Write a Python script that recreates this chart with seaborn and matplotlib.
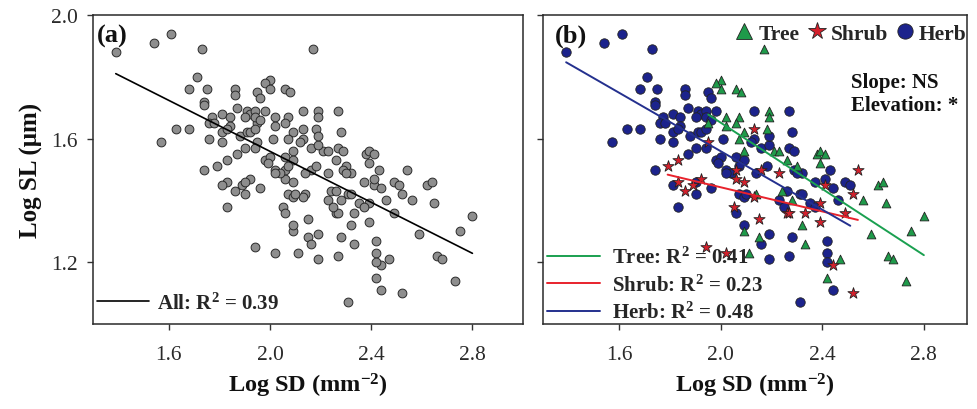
import numpy as np
import pandas as pd
import matplotlib
matplotlib.use("Agg")
import matplotlib.pyplot as plt
import seaborn as sns
from matplotlib.lines import Line2D

# ---------------- data (Log SD, Log SL) ----------------
herb_sd = [1.39, 1.54, 1.61, 1.73, 1.71, 1.68, 1.75, 1.86, 1.86, 1.95,
           1.96, 1.74, 1.74, 1.87, 1.91, 1.92, 1.94, 1.90, 1.94, 1.98,
           1.96, 1.81, 1.84, 1.77, 1.76, 1.78, 1.81, 1.84, 1.83, 1.88,
           1.91, 1.92, 1.94, 1.63, 1.68, 1.76, 1.81, 1.57, 1.87, 1.90,
           1.94, 1.98, 2.00, 1.99, 2.01, 2.06, 2.09, 2.13, 2.13, 2.12,
           2.16, 2.19, 2.27, 2.28, 2.19, 2.27, 2.29, 2.02, 2.07, 2.04,
           2.14, 2.18, 1.74, 1.81, 1.90, 1.90, 1.96, 1.83, 2.02, 2.07,
           2.09, 2.10, 2.06, 2.09, 2.16, 2.29, 2.32, 2.37, 2.41, 2.44,
           2.49, 2.51, 2.46, 2.26, 2.31, 2.32, 2.23, 2.25, 2.35, 2.37,
           2.19, 2.28, 2.19, 2.27, 2.42, 2.42, 2.42, 2.44, 2.31, 2.43,
           2.30]
herb_sl = [1.88, 1.91, 1.94, 1.89, 1.80, 1.76, 1.76, 1.76, 1.74, 1.75,
           1.73, 1.72, 1.71, 1.70, 1.69, 1.68, 1.69, 1.67, 1.67, 1.69,
           1.66, 1.68, 1.67, 1.67, 1.65, 1.65, 1.62, 1.64, 1.63, 1.61,
           1.62, 1.62, 1.63, 1.63, 1.63, 1.60, 1.59, 1.59, 1.55, 1.57,
           1.57, 1.53, 1.54, 1.52, 1.60, 1.54, 1.53, 1.69, 1.60, 1.59,
           1.57, 1.58, 1.69, 1.62, 1.61, 1.57, 1.56, 1.50, 1.51, 1.49,
           1.49, 1.51, 1.50, 1.45, 1.46, 1.42, 1.44, 1.38, 1.49, 1.42,
           1.41, 1.42, 1.36, 1.32, 1.26, 1.50, 1.49, 1.46, 1.47, 1.44,
           1.46, 1.45, 1.40, 1.43, 1.42, 1.42, 1.40, 1.38, 1.39, 1.38,
           1.29, 1.28, 1.21, 1.22, 1.27, 1.23, 1.20, 1.11, 1.07, 1.50,
           1.49]

tree_sd = [2.17, 2.00, 1.98, 2.00, 2.06, 2.08, 2.02, 2.07, 1.95, 2.02,
           2.06, 2.09, 2.07, 2.09, 2.19, 2.19, 2.18, 2.21, 2.23, 2.26,
           2.30, 2.38, 2.39, 2.41, 2.39, 2.62, 2.64, 2.56, 2.65, 2.80,
           2.75, 2.59, 2.32, 2.33, 2.47, 2.42, 2.66, 2.68, 2.73, 2.24,
           2.28, 2.15, 2.14, 2.09, 2.11]
tree_sl = [1.89, 1.79, 1.78, 1.76, 1.76, 1.75, 1.67, 1.67, 1.65, 1.64,
           1.65, 1.62, 1.60, 1.56, 1.69, 1.67, 1.63, 1.56, 1.56, 1.53,
           1.51, 1.55, 1.56, 1.55, 1.52, 1.45, 1.46, 1.40, 1.39, 1.35,
           1.30, 1.29, 1.32, 1.26, 1.21, 1.15, 1.22, 1.21, 1.14, 1.43,
           1.40, 1.28, 1.42, 1.30, 1.23]

shrub_sd = [1.79, 1.83, 1.83, 1.89, 1.86, 1.92, 1.95, 2.13, 2.06, 2.09,
            2.06, 2.05, 2.13, 2.15, 1.94, 2.02, 2.23, 2.16, 2.54, 2.41,
            2.52, 2.39, 2.49, 2.26, 2.27, 2.33, 2.39, 2.44, 2.52]
shrub_sl = [1.51, 1.53, 1.46, 1.45, 1.43, 1.47, 1.59, 1.63, 1.47, 1.46,
            1.50, 1.38, 1.41, 1.34, 1.25, 1.23, 1.49, 1.50, 1.50, 1.45,
            1.42, 1.39, 1.36, 1.36, 1.36, 1.36, 1.33, 1.19, 1.10]

groups = ["Tree", "Shrub", "Herb"]
r2_values = {"All": "0.39", "Tree": "0.41", "Shrub": "0.23", "Herb": "0.48"}
x_ticks = [1.6, 2.0, 2.4, 2.8]
x_ticklabels = ["1.6", "2.0", "2.4", "2.8"]
y_ticks = [1.2, 1.6, 2.0]
y_ticklabels = ["1.2", "1.6", "2.0"]

df = pd.concat([
    pd.DataFrame({"sd": tree_sd, "sl": tree_sl, "group": "Tree"}),
    pd.DataFrame({"sd": shrub_sd, "sl": shrub_sl, "group": "Shrub"}),
    pd.DataFrame({"sd": herb_sd, "sl": herb_sl, "group": "Herb"}),
], ignore_index=True)

# ---------------- style ----------------
sns.set_theme(style="ticks")
plt.rcParams["font.family"] = ["Liberation Serif", "DejaVu Serif"]
plt.rcParams["mathtext.fontset"] = "custom"
plt.rcParams["mathtext.rm"] = "Liberation Serif"
plt.rcParams["mathtext.bf"] = "Liberation Serif:bold"
plt.rcParams["mathtext.default"] = "bf"

marker_col = {"Tree": "#1f9a4a", "Shrub": "#d4202c", "Herb": "#1c238c"}
line_col = {"Tree": "#1aa050", "Shrub": "#e8222c", "Herb": "#24308e"}
markers = {"Tree": "^", "Shrub": "*", "Herb": "o"}
msize = {"Tree": 40, "Shrub": 72, "Herb": 46}

W, H = 978, 410
fig = plt.figure(figsize=(W / 100, H / 100), dpi=100)
ax1 = fig.add_axes([93 / W, 85 / H, 430 / W, 309 / H])
ax2 = fig.add_axes([543.3 / W, 85 / H, 423.7 / W, 309 / H])

# ---------------- panel (a) ----------------
sns.scatterplot(data=df, x="sd", y="sl", ax=ax1, color="#8e8e8e",
                edgecolor="#2a2a2a", linewidth=0.7, s=40, legend=False, zorder=3)
sns.regplot(data=df, x="sd", y="sl", ax=ax1, scatter=False, ci=None,
            truncate=True, color="black", line_kws={"linewidth": 1.2, "zorder": 4})

# ---------------- panel (b) ----------------
for g in ["Herb", "Tree", "Shrub"]:
    sub = df[df["group"] == g]
    sns.scatterplot(data=sub, x="sd", y="sl", ax=ax2, color=marker_col[g],
                    marker=markers[g], s=msize[g], edgecolor="#222222",
                    linewidth=0.6, legend=False, zorder=3)
for g in ["Tree", "Shrub", "Herb"]:
    sub = df[df["group"] == g]
    sns.regplot(data=sub, x="sd", y="sl", ax=ax2, scatter=False, ci=None,
                truncate=True, color=line_col[g],
                line_kws={"linewidth": 1.4, "zorder": 4})

# ---------------- axes formatting ----------------
for ax in (ax1, ax2):
    ax.set_xlim(1.3, 3.0 if ax is ax1 else 2.97)
    ax.set_ylim(1.0, 2.0)
    ax.set_xticks(x_ticks)
    ax.set_xticklabels(x_ticklabels)
    ax.set_yticks(y_ticks)
    ax.tick_params(axis="both", direction="out", length=4, width=1.0,
                   color="#333333", labelsize=15.5, labelcolor="#2a2a2a")
    ax.tick_params(axis="x", pad=11)
    ax.tick_params(axis="y", pad=7)
    for sp in ax.spines.values():
        sp.set_visible(True)
        sp.set_linewidth(1.1)
        sp.set_color("#2a2a2a")
    ax.set_xlabel("Log SD (mm$^{-2}$)", fontsize=17.5, fontweight="bold",
                  labelpad=5, color="#111111")

ax1.set_yticklabels(y_ticklabels)
ax2.set_yticklabels([])
ax1.set_ylabel("Log SL (\u03bcm)", fontsize=18, fontweight="bold",
               labelpad=6, color="#111111")
ax2.set_ylabel("")

ax1.text(0.009, 0.935, "(a)", transform=ax1.transAxes, fontsize=19,
         fontweight="bold", va="center", ha="left", color="#111111")
ax2.text(0.028, 0.935, "(b)", transform=ax2.transAxes, fontsize=19,
         fontweight="bold", va="center", ha="left", color="#111111")

ax2.text(0.726, 0.746, "Slope: NS\nElevation: *", transform=ax2.transAxes,
         fontsize=15, fontweight="bold", va="center", ha="left",
         linespacing=1.25, color="#111111")

# legend (a)
h_all = [Line2D([], [], color="black", linewidth=1.2)]
ax1.legend(h_all, ["All: R$^2$ = " + r2_values["All"]], loc="lower left",
           bbox_to_anchor=(0.0, 0.02), frameon=False, handlelength=2.5,
           handletextpad=0.35, borderaxespad=0.0, borderpad=0.2,
           prop={"size": 15, "weight": "bold"})

# legend (b) lines
h_lines = [Line2D([], [], color=line_col[g], linewidth=1.4) for g in groups]
leg_lines = ax2.legend(h_lines, [f"{g}: R$^2$ = {r2_values[g]}" for g in groups],
                       loc="lower left", bbox_to_anchor=(0.0, -0.01),
                       frameon=False, handlelength=2.5, handletextpad=0.6,
                       labelspacing=0.3, borderaxespad=0.0, borderpad=0.2,
                       prop={"size": 15, "weight": "bold"})
ax2.add_artist(leg_lines)

# legend (b) markers
h_mk = [Line2D([], [], linestyle="None", marker=markers[g],
               markerfacecolor=marker_col[g], markeredgecolor="#222222",
               markeredgewidth=0.6,
               markersize={"Tree": 11, "Shrub": 13, "Herb": 11}[g])
        for g in groups]
ax2.legend(h_mk, groups, loc="upper right", bbox_to_anchor=(1.01, 0.985),
           ncol=3, frameon=False, handlelength=0.9, handletextpad=0.2,
           columnspacing=0.35, borderaxespad=0.0, borderpad=0.2,
           prop={"size": 15.5, "weight": "bold"})

fig.savefig("out.png", dpi=100)
